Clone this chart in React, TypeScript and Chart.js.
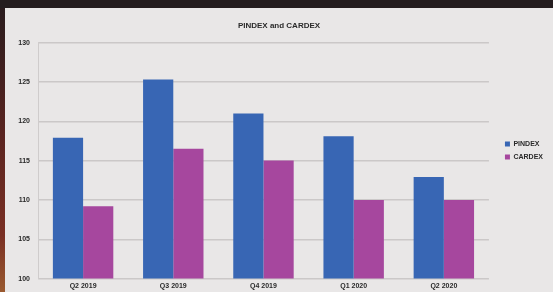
import React, { useEffect, useRef } from "react";
import { Chart, registerables } from "chart.js";

Chart.register(...registerables);

const categories = ["Q2 2019", "Q3 2019", "Q4 2019", "Q1 2020", "Q2 2020"];
const pindex = [117.9, 125.3, 121.0, 118.1, 112.9];
const cardex = [109.2, 116.5, 115.0, 110.0, 110.0];
const yMin = 100;
const yMax = 130;
const yStep = 5;
const chartTitle = "PINDEX and CARDEX";

export default function App() {
  const ref = useRef<HTMLCanvasElement | null>(null);

  useEffect(() => {
    if (!ref.current) return;
    const font = "'Liberation Sans', Arial, sans-serif";
    const chart = new Chart(ref.current, {
      type: "bar",
      data: {
        labels: categories,
        datasets: [
          {
            label: "PINDEX",
            data: pindex,
            backgroundColor: "#3866b4",
            categoryPercentage: 0.67,
            barPercentage: 1.0,
          },
          {
            label: "CARDEX",
            data: cardex,
            backgroundColor: "#a6479e",
            categoryPercentage: 0.67,
            barPercentage: 1.0,
          },
        ],
      },
      options: {
        animation: false,
        responsive: false,
        maintainAspectRatio: false,
        layout: { padding: { left: 0, right: 0, top: 0, bottom: -1 } },
        plugins: {
          title: {
            display: true,
            text: chartTitle,
            color: "#2a2a2a",
            font: { family: font, size: 8, weight: "bold" },
            padding: { top: 13, bottom: 12 },
          },
          legend: {
            position: "right",
            labels: {
              boxWidth: 5,
              boxHeight: 5,
              padding: 6,
              color: "#2a2a2a",
              font: { family: font, size: 7, weight: "bold" },
            },
          },
          tooltip: { enabled: false },
        },
        scales: {
          x: {
            grid: {
              offset: true,
              drawTicks: false,
              color: (ctx: any) =>
                ctx.index === 0 || ctx.index === categories.length ? "#cfcccc" : "rgba(0,0,0,0)",
            },
            border: { display: false },
            ticks: {
              padding: 3,
              color: "#2a2a2a",
              font: { family: font, size: 7, weight: "bold" },
              maxRotation: 0,
            },
          },
          y: {
            min: yMin,
            max: yMax,
            afterFit: (s: any) => {
              s.width = 33;
            },
            grid: { drawTicks: false, color: "#cbc8c8", lineWidth: 1.5 },
            border: { display: true, color: "#cfcccc" },
            ticks: {
              stepSize: yStep,
              padding: 8,
              color: "#2a2a2a",
              font: { family: font, size: 7, weight: "bold" },
            },
          },
          gap: {
            type: "linear",
            position: "right",
            display: true,
            afterFit: (s: any) => {
              s.width = 10;
            },
            grid: { display: false, drawTicks: false },
            border: { display: false },
            ticks: { display: false },
          },
        },
      },
    });
    return () => chart.destroy();
  }, []);

  return (
    <div
      style={{
        position: "fixed",
        left: 0,
        top: 0,
        width: 553,
        height: 292,
        background: "#241d1f",
        overflow: "hidden",
      }}
    >
      <div
        style={{
          position: "absolute",
          left: 0,
          top: 8,
          width: 5,
          height: 284,
          background: "linear-gradient(#2a1c1e, #5a2420 45%, #7a3024 80%, #9a5a30)",
        }}
      />
      <div
        style={{
          position: "absolute",
          left: 5,
          top: 8,
          width: 548,
          height: 284,
          background: "#e9e7e7",
        }}
      >
        <canvas ref={ref} width={548} height={284} style={{ display: "block" }} />
      </div>
    </div>
  );
}
